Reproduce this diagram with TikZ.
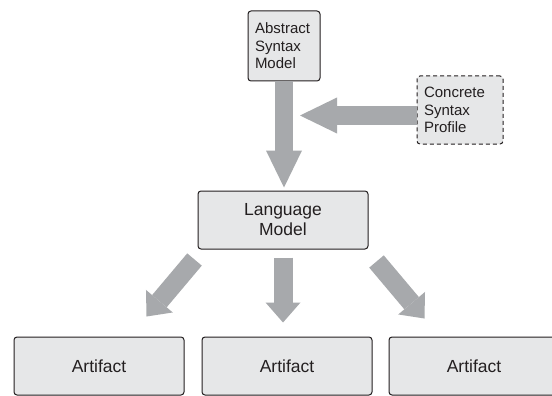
\documentclass[tikz,border=0pt]{standalone}
\usepackage{fontspec}
\setmainfont{Liberation Sans}
\usetikzlibrary{arrows.meta,calc}
\definecolor{boxfill}{HTML}{E6E7E8}
\definecolor{arrowgray}{HTML}{A7A9AC}
\definecolor{ink}{HTML}{231F20}
\tikzset{
  box/.style={draw=ink, fill=boxfill, rounded corners=3pt, line width=1pt, text=ink, inner sep=0pt},
  smallbox/.style={box, font=\fontsize{15}{17.5}\selectfont, align=left},
  bigbox/.style={box, font=\fontsize{17.5}{20}\selectfont, align=center},
  bigarrow/.style={draw=arrowgray, line width=18pt, -{Triangle[width=36pt,length=37pt,line width=0pt]}},
  smallarrow/.style={draw=arrowgray, line width=19pt, -{Triangle[width=35pt,length=20pt,line width=0pt]}},
}
\begin{document}
\begin{tikzpicture}[x=1pt,y=-1pt]
\useasboundingbox (0,0) rectangle (552,396);
\clip (0,0) rectangle (552,396);
\fill[white] (0,0) rectangle (552,396);
% boxes
\node[smallbox, minimum width=72pt, minimum height=70pt] (asm) at (284,46)
  {\parbox{58pt}{Abstract\\Syntax\\Model}};
\node[smallbox, dashed, dash pattern=on 4pt off 3pt, minimum width=86pt, minimum height=68pt] (csp) at (460,110)
  {\parbox{72pt}{Concrete\\Syntax\\Profile}};
\node[bigbox, minimum width=170pt, minimum height=58pt] (lm) at (283,220) {Language\\Model};
\node[bigbox, minimum width=170pt, minimum height=58pt] (a1) at (99,366) {Artifact};
\node[bigbox, minimum width=170pt, minimum height=58pt] (a2) at (287,366) {Artifact};
\node[bigbox, minimum width=170pt, minimum height=58pt] (a3) at (474,366) {Artifact};
% free end of the horizontal arrow
\coordinate (hend) at (300,115.5);
% arrows
\draw[bigarrow, shorten >=3pt] (asm.south) -- (asm.south |- lm.north);
\draw[bigarrow] ($(csp.west)+(0,5.5)$) -- (hend);
\draw[smallarrow, shorten <=8pt, shorten >=14pt] (lm.south) -- (lm.south |- a2.north);
\draw[smallarrow] ($(lm.south west)+(-3,10)$) -- ($(a1.north east)+(-38,-20)$);
\draw[smallarrow] ($(lm.south east)+(8,12)$) -- ($(a3.north west)+(36,-18)$);
\end{tikzpicture}
\end{document}
